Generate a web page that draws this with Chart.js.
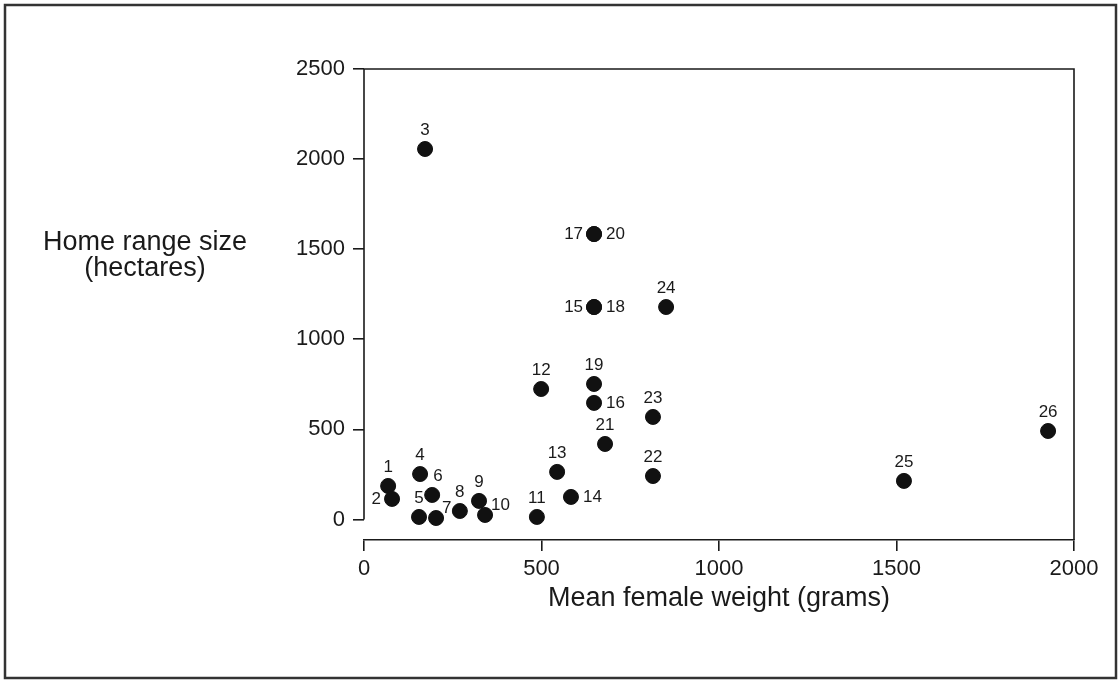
<!DOCTYPE html>
<html>
<head>
<meta charset="utf-8">
<script src="https://cdn.jsdelivr.net/npm/chart.js@4"></script>
<style>
  html, body { margin: 0; padding: 0; background: #fff; }
  canvas { display: block; }
</style>
</head>
<body>
<canvas id="homeRangeChart" width="1118" height="680"></canvas>
<script>
// species numbers, mean female weight (g) and home range size (ha)
const speciesIds = ['1', '2', '3', '4', '5', '6', '7', '8', '9', '10', '11', '12', '13',
  '14', '15', '16', '17', '18', '19', '20', '21', '22', '23', '24', '25', '26'];
const femaleWeight = [68, 79, 172, 158, 155, 192, 203, 270, 324, 341, 487, 499, 544,
  583, 648, 648, 648, 648, 648, 648, 679, 814, 814, 851, 1521, 1927];
const homeRange = [186, 114, 2056, 252, 14, 136, 8, 47, 103, 25, 14, 724, 264,
  125, 1179, 647, 1584, 1179, 752, 1584, 419, 241, 569, 1179, 214, 491];
// where each number sits next to its dot: t = above, l = left, r = right, tr / ur = up-right
const labelSide = ['t', 'l', 't', 't', 't', 'tr', 'ur', 't', 't', 'ur', 't', 't', 't',
  'r', 'l', 'r', 'l', 'r', 't', 'r', 't', 't', 't', 't', 't', 't'];

const xTicks = [0, 500, 1000, 1500, 2000];
const yTicks = [0, 500, 1000, 1500, 2000, 2500];

const FONT = "'Liberation Sans', Arial, Helvetica, sans-serif";
const INK = '#1a1a1a';

// frame, y title, plot box lines and point numbers
const decorations = {
  id: 'decorations',
  beforeDraw(chart) {
    const ctx = chart.ctx;
    ctx.save();
    ctx.fillStyle = '#fff';
    ctx.fillRect(0, 0, chart.width, chart.height);
    ctx.strokeStyle = '#333';
    ctx.lineWidth = 2.5;
    ctx.strokeRect(5, 5, 1111, 673);
    ctx.restore();
  },
  afterDraw(chart) {
    const ctx = chart.ctx;
    const area = chart.chartArea;
    const y = chart.scales.y;
    ctx.save();
    ctx.strokeStyle = INK;
    ctx.lineWidth = 1.6;
    ctx.beginPath();
    // y axis stops at 0
    ctx.moveTo(area.left, y.getPixelForValue(2500));
    ctx.lineTo(area.left, y.getPixelForValue(0));
    // top and right sides of the box
    ctx.moveTo(area.left, area.top);
    ctx.lineTo(area.right, area.top);
    ctx.lineTo(area.right, area.bottom);
    ctx.stroke();

    ctx.fillStyle = INK;
    ctx.font = '27px ' + FONT;
    ctx.textAlign = 'center';
    ctx.textBaseline = 'middle';
    ctx.fillText('Home range size', 145, 243);
    ctx.fillText('(hectares)', 145, 269);

    ctx.font = '17px ' + FONT;
    const pts = chart.getDatasetMeta(0).data;
    pts.forEach((p, i) => {
      const side = labelSide[i];
      let dx = 0, dy = -19, align = 'center';
      if (side === 'l') { dx = -11; dy = 0; align = 'right'; }
      if (side === 'r') { dx = 12; dy = 0; align = 'left'; }
      if (side === 'tr') { dx = 1; dy = -19; align = 'left'; }
      if (side === 'ur') { dx = 6; dy = -10; align = 'left'; }
      ctx.textAlign = align;
      ctx.fillText(speciesIds[i], p.x + dx, p.y + dy);
    });
    ctx.restore();
  }
};

new Chart(document.getElementById('homeRangeChart'), {
  type: 'scatter',
  data: {
    datasets: [{
      data: femaleWeight.map((w, i) => ({ x: w, y: homeRange[i] })),
      backgroundColor: '#111',
      borderColor: '#111',
      pointRadius: 7.5,
      pointHoverRadius: 7.5
    }]
  },
  options: {
    responsive: false,
    animation: false,
    layout: { padding: { left: 0, right: 44, top: 69, bottom: 0 } },
    plugins: {
      legend: { display: false },
      tooltip: { enabled: false }
    },
    scales: {
      x: {
        type: 'linear',
        min: 0,
        max: 2000,
        afterBuildTicks: scale => { scale.ticks = xTicks.map(v => ({ value: v })); },
        afterFit: scale => { scale.height = 140; },
        ticks: {
          color: INK,
          font: { family: FONT, size: 22 },
          padding: 5,
          callback: v => String(v)
        },
        grid: { drawOnChartArea: false, drawTicks: true, tickLength: 11, color: INK, lineWidth: 1.6 },
        border: { display: true, color: INK, width: 1.6 },
        title: {
          display: true,
          text: 'Mean female weight (grams)',
          color: INK,
          font: { family: FONT, size: 27 },
          padding: { top: 4, bottom: 65 }
        }
      },
      y: {
        type: 'linear',
        min: -114,
        max: 2500,
        afterBuildTicks: scale => { scale.ticks = yTicks.map(v => ({ value: v })); },
        afterFit: scale => { scale.width = 364; },
        ticks: {
          color: INK,
          font: { family: FONT, size: 22 },
          padding: 8,
          callback: v => String(v)
        },
        grid: { drawOnChartArea: false, drawTicks: true, tickLength: 11, color: INK, lineWidth: 1.6 },
        border: { display: false }
      }
    }
  },
  plugins: [decorations]
});
</script>
</body>
</html>
